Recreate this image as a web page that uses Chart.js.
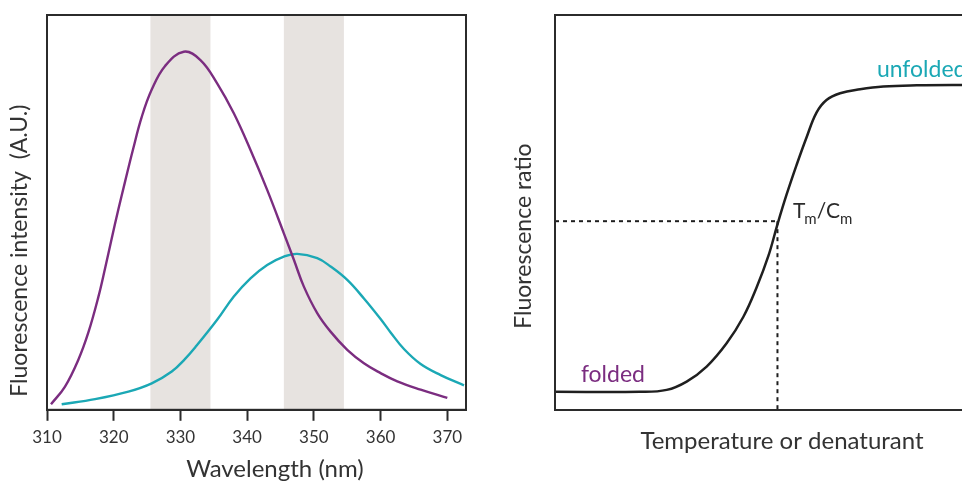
<!DOCTYPE html>
<html>
<head>
<meta charset="utf-8">
<script src="https://cdn.jsdelivr.net/npm/chart.js@4/dist/chart.umd.min.js"></script>
<style>
  html, body { margin: 0; padding: 0; background: #fff; }
  body { width: 962px; height: 481px; overflow: hidden; position: relative; }
  .box { position: absolute; top: 0; }
  #leftBox { left: 0; width: 480px; height: 500px; }
  #rightBox { left: 480px; width: 540px; height: 500px; }
</style>
</head>
<body>
<div class="box" id="leftBox"><canvas id="spectrum"></canvas></div>
<div class="box" id="rightBox"><canvas id="melt"></canvas></div>
<script>
// --- left panel: emission spectra ---
var wavelengthTicks = [310, 320, 330, 340, 350, 360, 370];
var bands = [[325.5, 334.5], [345.5, 354.5]];

var foldedX = [310.6, 312.7, 314.7, 316.2, 317.7, 318.7, 319.7, 320.7, 321.7, 322.9, 324.2, 325.7, 327.7, 330.5, 333, 335.5, 338, 340.5, 343, 345.5, 347, 348.5, 350.5, 352.5, 355, 357.5, 360, 362.5, 366, 370];
var foldedY = [1.4, 5.9, 12.7, 19.6, 28.6, 35.8, 43.4, 50.8, 57.8, 66, 74.2, 81.1, 87.1, 90.7, 88.6, 82.7, 75.1, 65.8, 55.7, 44.7, 38, 31.2, 24.5, 19.8, 15.2, 11.8, 9.3, 7.2, 5.1, 3.0];

var unfoldedX = [312.2, 317.2, 322.2, 325.7, 328.7, 330.7, 332.2, 335.5, 338, 340.5, 343, 345.5, 347.5, 350.5, 352.5, 355, 357.5, 360, 361.5, 363.5, 366, 369, 372.5];
var unfoldedY = [1.4, 2.7, 4.6, 6.7, 9.7, 12.9, 15.8, 22.8, 28.7, 33.3, 36.7, 38.8, 39.5, 38.4, 36.3, 32.9, 28.2, 23.0, 19.6, 15.4, 11.6, 8.8, 6.2];

// --- right panel: melting curve ---
var meltX = [0, 18.7, 24.6, 29, 33.4, 37.8, 41.5, 44.4, 47, 49, 51, 53.2, 55.4, 57.6, 59.8, 62.8, 67.2, 72.3, 79.7, 89.6, 100];
var meltY = [4.6, 4.6, 5.1, 7.2, 11, 16.9, 23.6, 31.0, 39.0, 47.0, 54.5, 62, 69, 75.3, 78.5, 80.2, 81.2, 81.9, 82.2, 82.3, 82.3];
var tm = 49;
var tmRatio = 47.8;

var purple = '#7b2d80';
var teal = '#1ba8b5';
var ink = '#2b2b2b';
var fontFamily = 'Lato, "Noto Sans", sans-serif';

function pts(xs, ys) {
    var out = [];
    for (var i = 0; i < xs.length; i++) out.push({x: xs[i], y: ys[i]});
    return out;
}

// frame around the plot area
var frame = {
    id: 'frame',
    afterDraw: function(chart) {
        var a = chart.chartArea, ctx = chart.ctx;
        ctx.save();
        ctx.strokeStyle = ink;
        ctx.lineWidth = 2;
        ctx.strokeRect(a.left, a.top, a.right - a.left, a.bottom - a.top);
        ctx.restore();
    }
};

// grey wavelength bands
var shading = {
    id: 'shading',
    beforeDatasetsDraw: function(chart) {
        var x = chart.scales.x, a = chart.chartArea, ctx = chart.ctx;
        ctx.save();
        ctx.fillStyle = '#e7e3e0';
        bands.forEach(function(b) {
            var x0 = x.getPixelForValue(b[0]), x1 = x.getPixelForValue(b[1]);
            ctx.fillRect(x0, a.top, x1 - x0, a.bottom - a.top);
        });
        ctx.restore();
    }
};

// text labels on the melt curve
var meltLabels = {
    id: 'meltLabels',
    afterDatasetsDraw: function(chart) {
        var x = chart.scales.x, y = chart.scales.y, ctx = chart.ctx;
        ctx.save();
        ctx.textBaseline = 'alphabetic';
        ctx.textAlign = 'left';
        ctx.font = '23px ' + fontFamily;
        ctx.fillStyle = purple;
        ctx.fillText('folded', x.getPixelForValue(5.7), y.getPixelForValue(7.1));
        ctx.fillStyle = teal;
        ctx.fillText('unfolded', x.getPixelForValue(70.9), y.getPixelForValue(84.3));

        // T_m / C_m
        ctx.fillStyle = ink;
        var px = x.getPixelForValue(52.4), py = y.getPixelForValue(48.6);
        var big = '21px ' + fontFamily, small = '15px ' + fontFamily;
        var parts = [['T', big, 0], ['m', small, 6], ['/C', big, 0], ['m', small, 6]];
        parts.forEach(function(p) {
            ctx.font = p[1];
            ctx.fillText(p[0], px, py + p[2]);
            px += ctx.measureText(p[0]).width - (p[0] === 'T' ? 1 : 0);
        });
        ctx.restore();
    }
};

// titles sit off-centre in the original, padded with spaces
function pad(n) { return new Array(n + 1).join(' '); }

new Chart(document.getElementById('spectrum'), {
    type: 'line',
    data: {
        datasets: [
            { data: pts(foldedX, foldedY), borderColor: purple },
            { data: pts(unfoldedX, unfoldedY), borderColor: teal }
        ]
    },
    options: {
        responsive: true,
        maintainAspectRatio: false,
        animation: false,
        layout: { padding: { left: 6, top: 15, right: 14, bottom: 16 } },
        elements: {
            point: { radius: 0 },
            line: { borderWidth: 2.4, tension: 0.4 }
        },
        plugins: { legend: { display: false }, tooltip: { enabled: false } },
        scales: {
            x: {
                type: 'linear',
                min: 310,
                max: 372.8,
                afterBuildTicks: function(axis) {
                    axis.ticks = wavelengthTicks.map(function(v) { return {value: v}; });
                },
                grid: { drawOnChartArea: false, tickLength: 11, tickWidth: 2, color: ink },
                border: { color: ink, width: 2 },
                ticks: { padding: 7, color: '#333', font: { family: fontFamily, size: 17 }, autoSkip: false, maxRotation: 0 },
                title: { display: true, text: pad(6) + 'Wavelength (nm)', color: '#333', font: { family: fontFamily, size: 24 }, padding: { top: 0, bottom: 0 } }
            },
            y: {
                min: 0,
                max: 100,
                grid: { display: false, drawTicks: false },
                border: { color: ink, width: 2 },
                ticks: { display: false },
                title: { display: true, text: 'Fluorescence intensity  (A.U.)' + pad(13), color: '#333', font: { family: fontFamily, size: 23 }, padding: { top: 0, bottom: 13.4 } }
            }
        }
    },
    plugins: [shading, frame]
});

new Chart(document.getElementById('melt'), {
    type: 'line',
    data: {
        datasets: [
            { data: pts(meltX, meltY), borderColor: '#1f1f1f', borderWidth: 2.5, tension: 0.4 },
            { data: [{x: 0, y: tmRatio}, {x: tm, y: tmRatio}], borderColor: '#1f1f1f', borderWidth: 2, borderDash: [4, 4] },
            { data: [{x: tm, y: tmRatio}, {x: tm, y: 0}], borderColor: '#1f1f1f', borderWidth: 2, borderDash: [4, 4] }
        ]
    },
    options: {
        responsive: true,
        maintainAspectRatio: false,
        animation: false,
        layout: { padding: { left: 30, top: 15, right: 11, bottom: 44.6 } },
        elements: {
            point: { radius: 0 }
        },
        plugins: { legend: { display: false }, tooltip: { enabled: false } },
        scales: {
            x: {
                type: 'linear',
                min: 0,
                max: 100,
                grid: { display: false, drawTicks: false },
                border: { color: ink, width: 2 },
                ticks: { display: false },
                title: { display: true, text: 'Temperature or denaturant', color: '#333', font: { family: fontFamily, size: 24 }, padding: { top: 16.6, bottom: 0 } }
            },
            y: {
                min: 0,
                max: 100,
                grid: { display: false, drawTicks: false },
                border: { color: ink, width: 2 },
                ticks: { display: false },
                title: { display: true, text: 'Fluorescence ratio' + pad(8), color: '#333', font: { family: fontFamily, size: 23 }, padding: { top: 0, bottom: 17.4 } }
            }
        }
    },
    plugins: [frame, meltLabels]
});
</script>
</body>
</html>
